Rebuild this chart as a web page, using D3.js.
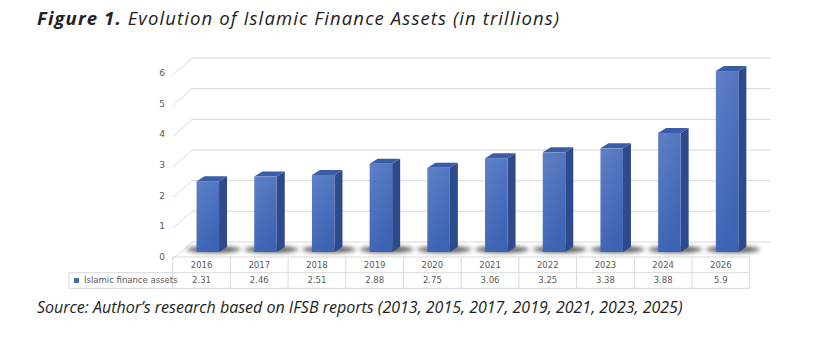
<!DOCTYPE html>
<html>
<head>
<meta charset="utf-8">
<script src="https://cdn.jsdelivr.net/npm/d3@7"></script>
<style>
  body { margin: 0; background: #fff; }
  svg { display: block; }
</style>
</head>
<body>
<div id="chart"></div>
<script>
// data
var years = ["2016", "2017", "2018", "2019", "2020", "2021", "2022", "2023", "2024", "2026"];
var assets = [2.31, 2.46, 2.51, 2.88, 2.75, 3.06, 3.25, 3.38, 3.88, 5.9];
var yTicks = [0, 1, 2, 3, 4, 5, 6];
var seriesName = "Islamic finance assets";

var width = 838, height = 363;

var svg = d3.select("#chart")
    .append("svg")
    .attr("width", width)
    .attr("height", height);

var defs = svg.append("defs");
defs.append("filter").attr("id", "blur")
    .attr("x", "-50%").attr("y", "-200%").attr("width", "200%").attr("height", "500%")
    .append("feGaussianBlur").attr("stdDeviation", 2.2);

var front = defs.append("linearGradient").attr("id", "front")
    .attr("x1", 0).attr("y1", 0).attr("x2", 0.4).attr("y2", 1);
front.append("stop").attr("offset", "0%").attr("stop-color", "#5f80c6");
front.append("stop").attr("offset", "100%").attr("stop-color", "#3d63b3");

// title
var title = svg.append("text")
    .attr("x", 37).attr("y", 25)
    .style("font-family", "'Open Sans', sans-serif")
    .style("font-size", "18.5px")
    .style("font-style", "italic")
    .style("letter-spacing", "1.1px")
    .attr("fill", "#222");
title.append("tspan").style("font-weight", "bold").text("Figure 1.");
title.append("tspan").text(" Evolution of Islamic Finance Assets (in trillions)");

// scales: back wall y, table columns x
var y = d3.scaleLinear().domain([0, 6]).range([242, 58]);
var x = d3.scaleBand().domain(years).range([172.7, 749.7]);

var wallLeft = 192, wallRight = 770, sideX = 173, sideDy = 17;

// gridlines with side wall
var grid = svg.append("g");
grid.selectAll("path")
    .data(yTicks)
    .enter()
    .append("path")
    .attr("d", function (d) {
        return "M" + sideX + "," + (y(d) + sideDy) + "L" + wallLeft + "," + y(d) + "H" + wallRight;
    })
    .attr("fill", "none")
    .attr("stroke", "#d9d9d9")
    .attr("stroke-width", 1);

grid.selectAll("text")
    .data(yTicks)
    .enter()
    .append("text")
    .attr("x", 162)
    .attr("y", function (d) { return y(d) + 15; })
    .attr("dy", "0.35em")
    .attr("text-anchor", "middle")
    .style("font-family", "'DejaVu Sans', sans-serif")
    .style("font-size", "9px")
    .attr("fill", "#595959")
    .text(function (d) { return d; });

// bars (pseudo 3D)
var barW = 22.5, dx = 8, dy = 5, zOff = 10;
var bars = svg.selectAll("g.bar")
    .data(years.map(function (k, i) { return { year: k, value: assets[i] }; }))
    .enter()
    .append("g")
    .attr("class", "bar");

bars.append("ellipse")
    .attr("cx", function (d) { return x(d.year) + x.bandwidth() / 2 + 12; })
    .attr("cy", 249.5)
    .attr("rx", 27)
    .attr("ry", 3.2)
    .attr("fill", "#333")
    .attr("opacity", 0.8)
    .attr("filter", "url(#blur)");

bars.append("path")
    .attr("d", function (d) {
        var x0 = x(d.year) + x.bandwidth() / 2 - 5, x1 = x0 + barW;
        var yt = y(d.value) + zOff, yb = y(0) + zOff;
        return "M" + x1 + "," + yt + "L" + (x1 + dx) + "," + (yt - dy) + "L" + (x1 + dx) + "," + (yb - dy) + "L" + x1 + "," + yb + "Z";
    })
    .attr("fill", "#2c4a8c");

bars.append("path")
    .attr("d", function (d) {
        var x0 = x(d.year) + x.bandwidth() / 2 - 5, x1 = x0 + barW;
        var yt = y(d.value) + zOff;
        return "M" + x0 + "," + yt + "L" + (x0 + dx) + "," + (yt - dy) + "L" + (x1 + dx) + "," + (yt - dy) + "L" + x1 + "," + yt + "Z";
    })
    .attr("fill", "#3b5ca6");

bars.append("rect")
    .attr("x", function (d) { return x(d.year) + x.bandwidth() / 2 - 5; })
    .attr("y", function (d) { return y(d.value) + zOff; })
    .attr("width", barW)
    .attr("height", function (d) { return y(0) - y(d.value); })
    .attr("fill", "url(#front)");

// data table
var rowTop = 257, rowMid = 272.7, rowBot = 288.3, legLeft = 69;
var table = svg.append("g")
    .attr("stroke", "#d9d9d9")
    .attr("fill", "none");
table.append("line").attr("x1", x.range()[0]).attr("x2", x.range()[1]).attr("y1", rowTop).attr("y2", rowTop);
table.append("line").attr("x1", legLeft).attr("x2", x.range()[1]).attr("y1", rowMid).attr("y2", rowMid);
table.append("line").attr("x1", legLeft).attr("x2", x.range()[1]).attr("y1", rowBot).attr("y2", rowBot);
table.append("line").attr("x1", legLeft).attr("x2", legLeft).attr("y1", rowMid).attr("y2", rowBot);
table.selectAll("line.col")
    .data(years.concat(["end"]))
    .enter()
    .append("line")
    .attr("class", "col")
    .attr("x1", function (d) { return d === "end" ? x.range()[1] : x(d); })
    .attr("x2", function (d) { return d === "end" ? x.range()[1] : x(d); })
    .attr("y1", rowTop)
    .attr("y2", rowBot);

var cellText = svg.append("g")
    .style("font-family", "'DejaVu Sans', sans-serif")
    .style("font-size", "8.5px")
    .attr("fill", "#595959")
    .attr("text-anchor", "middle");
cellText.selectAll("text.yr")
    .data(years)
    .enter()
    .append("text")
    .attr("x", function (d) { return x(d) + x.bandwidth() / 2; })
    .attr("y", (rowTop + rowMid) / 2)
    .attr("dy", "0.35em")
    .text(function (d) { return d; });
cellText.selectAll("text.val")
    .data(assets)
    .enter()
    .append("text")
    .attr("x", function (d, i) { return x(years[i]) + x.bandwidth() / 2; })
    .attr("y", (rowMid + rowBot) / 2)
    .attr("dy", "0.35em")
    .text(function (d) { return d; });

svg.append("rect")
    .attr("x", 74).attr("y", (rowMid + rowBot) / 2 - 2.5)
    .attr("width", 5).attr("height", 5)
    .attr("fill", "#4469b8");
svg.append("text")
    .attr("x", 84).attr("y", (rowMid + rowBot) / 2)
    .attr("dy", "0.35em")
    .style("font-family", "'DejaVu Sans', sans-serif")
    .style("font-size", "8.5px")
    .attr("fill", "#595959")
    .text(seriesName);

// source note
svg.append("text")
    .attr("x", 37).attr("y", 313)
    .style("font-family", "'Open Sans', sans-serif")
    .style("font-size", "16px")
    .style("font-style", "italic")
    .attr("fill", "#222")
    .text("Source: Author\u2019s research based on IFSB reports (2013, 2015, 2017, 2019, 2021, 2023, 2025)");
</script>
</body>
</html>
